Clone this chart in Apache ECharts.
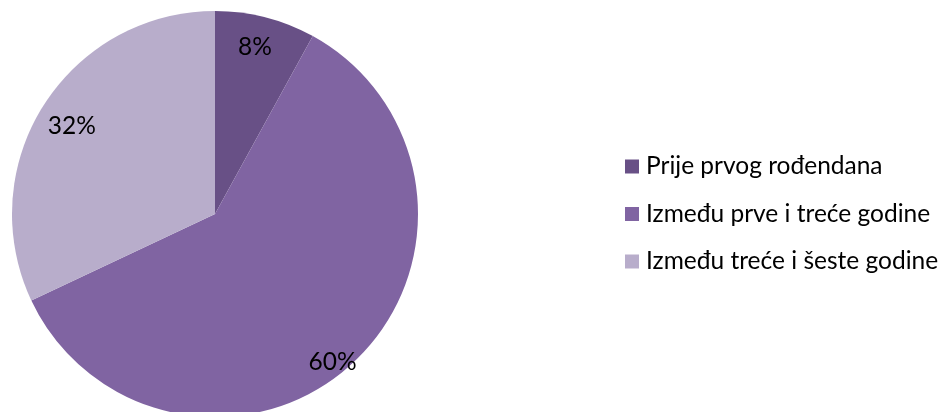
<!DOCTYPE html>
<html><head><meta charset="utf-8">
<script src="https://cdn.jsdelivr.net/npm/echarts@6/dist/echarts.min.js"></script>
<style>html,body{margin:0;padding:0;background:#fff}#c{width:947px;height:412px}</style>
</head><body><div id="c"></div>
<script>
const categories = ['Prije prvog rođendana', 'Između prve i treće godine', 'Između treće i šeste godine'];
const values = [8, 60, 32];
const colors = ['#685086', '#8064a2', '#b8adcb'];
const labelOffsets = [[14, -66], [46, 72], [-55, -32]];

const chart = echarts.init(document.getElementById('c'));
chart.setOption({
  animation: false,
  legend: {
    orient: 'vertical',
    left: 620,
    top: 149,
    itemWidth: 14,
    itemHeight: 14,
    itemGap: 22.5,
    icon: 'rect',
    textStyle: { fontFamily: 'Lato', fontSize: 24.5, lineHeight: 25, color: '#000', padding: [0, 0, 0, 2] },
    data: categories
  },
  series: [{
    type: 'pie',
    center: [215, 214],
    radius: 203,
    startAngle: 90,
    clockwise: true,
    avoidLabelOverlap: false,
    label: {
      show: true,
      position: 'inside',
      formatter: p => p.value + '%',
      fontFamily: 'Lato',
      fontSize: 24.5,
      color: '#000'
    },
    labelLine: { show: false },
    itemStyle: { borderWidth: 0 },
    emphasis: { disabled: true },
    data: categories.map((n, i) => ({
      name: n,
      value: values[i],
      itemStyle: { color: colors[i] },
      label: { offset: labelOffsets[i] }
    }))
  }]
});
</script></body></html>
